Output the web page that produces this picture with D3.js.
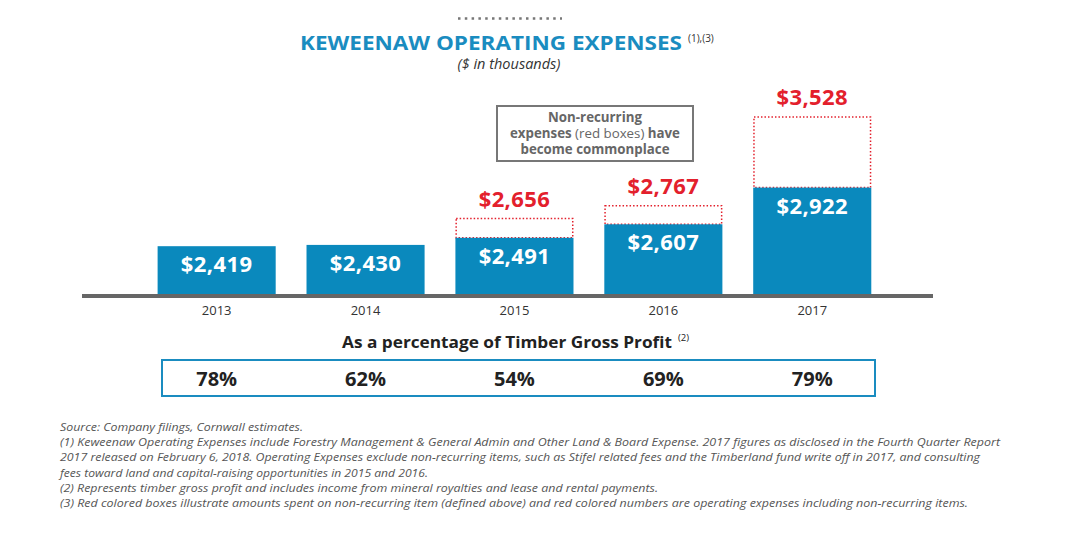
<!DOCTYPE html>
<html><head><meta charset="utf-8">
<script src="https://cdn.jsdelivr.net/npm/d3@7"></script>
<style>
html,body{margin:0;padding:0;background:#fff;}
svg{display:block;font-family:"Open Sans",sans-serif;}
</style></head>
<body><svg id="chart" width="1080" height="533"></svg>
<script>
const years = ["2013","2014","2015","2016","2017"];
const recurring = [2419, 2430, 2491, 2607, 2922];
const totals = [null, null, 2656, 2767, 3528];
const percents = [78, 62, 54, 69, 79];
const footnotes = [
  "Source: Company filings, Cornwall estimates.",
  "(1) Keweenaw Operating Expenses include Forestry Management & General Admin and Other Land & Board Expense. 2017 figures as disclosed in the Fourth Quarter Report",
  "2017 released on February 6, 2018. Operating Expenses exclude non-recurring items, such as Stifel related fees and the Timberland fund write off in 2017, and consulting",
  "fees toward land and capital-raising opportunities in 2015 and 2016.",
  "(2) Represents timber gross profit and includes income from mineral royalties and lease and rental payments.",
  "(3) Red colored boxes illustrate amounts spent on non-recurring item (defined above) and red colored numbers are operating expenses including non-recurring items."
];
const footWidths = [243, 940, 920, 368, 598, 908];

const blue = "#0a89bd", red = "#e3202c";
const svg = d3.select("#chart");
const fmt = d3.format("$,");

const x = d3.scaleBand().domain(years).range([142.2, 886.7]).paddingInner(0.207).paddingOuter(0.1035);
const y = d3.scaleLinear().domain([2000, 3528]).range([295, 117]);

// dotted ornament
svg.append("line").attr("x1",458).attr("x2",562).attr("y1",18.5).attr("y2",18.5)
  .attr("stroke","#777").attr("stroke-width",2.5).attr("stroke-dasharray","2.5,4.3");

// title
const t = svg.append("text").attr("x",300).attr("y",50)
  .attr("font-size",20).attr("font-weight",700).attr("fill","#1a8cc0");
t.append("tspan").attr("textLength",382).attr("lengthAdjust","spacingAndGlyphs").text("KEWEENAW OPERATING EXPENSES");
t.append("tspan").attr("font-size",10).attr("font-weight",400).attr("fill","#333").attr("x",688).attr("dy",-8).text("(1),(3)");
svg.append("text").attr("x",509).attr("y",69).attr("text-anchor","middle")
  .attr("font-size",14.5).attr("font-style","italic").attr("fill","#333").text("($ in thousands)");

// annotation box
svg.append("rect").attr("x",497).attr("y",106).attr("width",196).attr("height",55)
  .attr("fill","none").attr("stroke","#777").attr("stroke-width",2);
const ann = svg.append("g").attr("font-size",13.3).attr("fill","#666").attr("text-anchor","middle");
ann.append("text").attr("x",595).attr("y",122).attr("font-weight",700).text("Non-recurring");
const a2 = ann.append("text").attr("x",595).attr("y",138);
a2.append("tspan").attr("font-weight",700).text("expenses ");
a2.append("tspan").attr("font-weight",400).text("(red boxes) ");
a2.append("tspan").attr("font-weight",700).text("have");
ann.append("text").attr("x",595).attr("y",154).attr("font-weight",700).text("become commonplace");

// red dotted boxes
svg.selectAll("rect.nr").data(years.filter((d,i)=>totals[i]!=null))
  .join("rect").attr("class","nr")
  .attr("x", d=>x(d)+0.75).attr("width", x.bandwidth()-1.5)
  .attr("y", d=>y(totals[years.indexOf(d)]))
  .attr("height", d=>y(recurring[years.indexOf(d)]) - y(totals[years.indexOf(d)]))
  .attr("fill","none").attr("stroke",red).attr("stroke-width",1.5).attr("stroke-dasharray","1.5,2");

// bars
svg.selectAll("rect.bar").data(years).join("rect").attr("class","bar")
  .attr("x", d=>x(d)).attr("width", x.bandwidth())
  .attr("y", (d,i)=>y(recurring[i])).attr("height",(d,i)=>y(2000)-y(recurring[i]))
  .attr("fill", blue);

// baseline
svg.append("line").attr("x1",82).attr("x2",933).attr("y1",296).attr("y2",296)
  .attr("stroke","#666").attr("stroke-width",4);

// bar labels
svg.selectAll("text.bl").data(years).join("text").attr("class","bl")
  .attr("x", d=>x(d)+x.bandwidth()/2).attr("y",(d,i)=>y(recurring[i])+26)
  .attr("text-anchor","middle").attr("font-size",22).attr("font-weight",700).attr("fill","#fff")
  .attr("letter-spacing",0.4)
  .text((d,i)=>fmt(recurring[i]));

// total labels
svg.selectAll("text.tl").data(years.filter((d,i)=>totals[i]!=null)).join("text").attr("class","tl")
  .attr("x", d=>x(d)+x.bandwidth()/2).attr("y", d=>y(totals[years.indexOf(d)])-12)
  .attr("text-anchor","middle").attr("font-size",22).attr("font-weight",700).attr("fill",red)
  .attr("letter-spacing",0.4)
  .text(d=>fmt(totals[years.indexOf(d)]));

// year axis
const xAxis = d3.axisBottom(x).tickSize(0).tickPadding(0);
const ax = svg.append("g").attr("transform","translate(0,306)").call(xAxis);
ax.select(".domain").remove();
ax.selectAll("text").attr("font-size",13).attr("fill","#333").attr("font-family","Open Sans, sans-serif").attr("dy","0.71em");

// percentage heading
const ph = svg.append("text").attr("x",342).attr("y",348)
  .attr("font-size",16.5).attr("font-weight",700).attr("fill","#222");
ph.append("tspan").attr("textLength",330).attr("lengthAdjust","spacingAndGlyphs").text("As a percentage of Timber Gross Profit");
ph.append("tspan").attr("font-size",9.5).attr("font-weight",400).attr("x",678).attr("dy",-7).text("(2)");

// percentage box
svg.append("rect").attr("x",162).attr("y",360).attr("width",713).attr("height",36)
  .attr("fill","none").attr("stroke","#1a8cc0").attr("stroke-width",2);
svg.selectAll("text.pc").data(years).join("text").attr("class","pc")
  .attr("x", d=>x(d)+x.bandwidth()/2).attr("y",386).attr("text-anchor","middle")
  .attr("font-size",20).attr("font-weight",700).attr("fill","#222")
  .text((d,i)=>percents[i]+"%");

// footnotes
svg.selectAll("text.fn").data(footnotes).join("text").attr("class","fn")
  .attr("x",60).attr("y",(d,i)=>431+i*15.2)
  .attr("font-size",11).attr("font-style","italic").attr("fill","#555")
  .attr("textLength",(d,i)=>footWidths[i]).attr("lengthAdjust","spacingAndGlyphs")
  .text(d=>d);
</script></body></html>
